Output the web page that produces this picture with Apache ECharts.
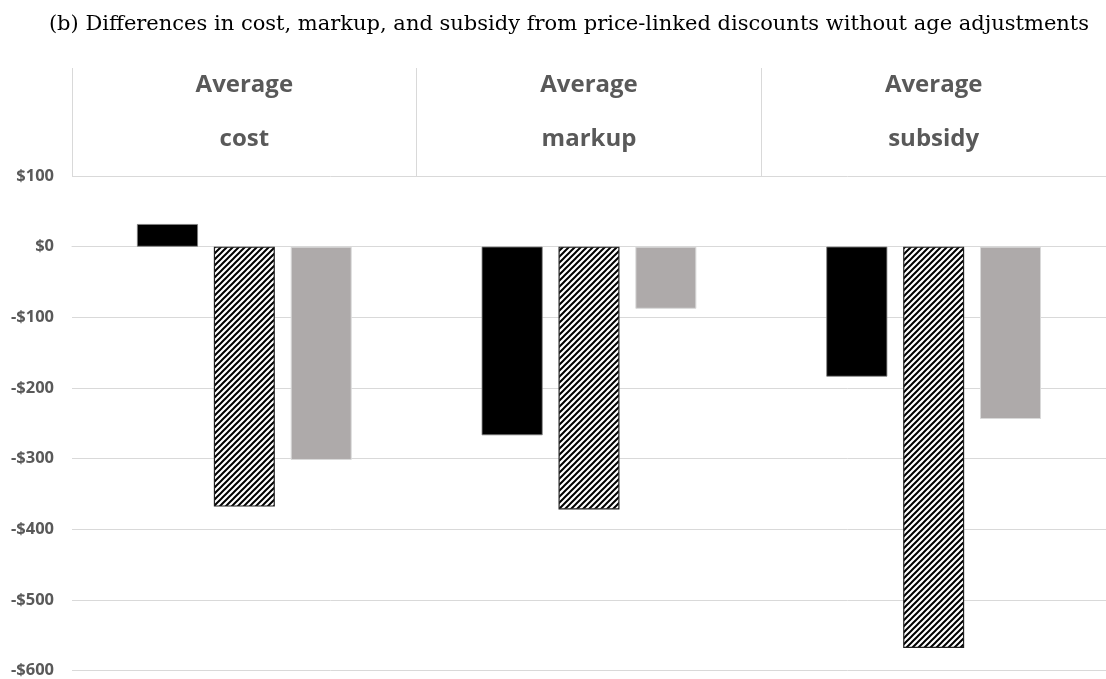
<!DOCTYPE html>
<html>
<head>
<meta charset="utf-8">
<script src="https://cdn.jsdelivr.net/npm/echarts@6/dist/echarts.min.js"></script>
<style>
html,body{margin:0;padding:0;background:#fff;}
#chart{width:1106px;height:679px;}
</style>
</head>
<body>
<div id="chart"></div>
<script>
const titleText = '(b) Differences in cost, markup, and subsidy from price-linked discounts without age adjustments';
const categories = ['Average\ncost', 'Average\nmarkup', 'Average\nsubsidy'];
const seriesSolid = [32, -267, -184];
const seriesHatched = [-368, -372, -568];
const seriesGray = [-302, -88, -244];
const yTicks = { min: -600, max: 100, interval: 100 };

function makeHatch() {
  const s = 6;
  const c = document.createElement('canvas');
  c.width = s; c.height = s;
  const g = c.getContext('2d');
  g.fillStyle = '#ffffff';
  g.fillRect(0, 0, s, s);
  g.strokeStyle = '#000000';
  g.lineWidth = 2;
  g.beginPath();
  g.moveTo(-1, s + 1); g.lineTo(s + 1, -1);
  g.moveTo(-1, 1); g.lineTo(1, -1);
  g.moveTo(s - 1, s + 1); g.lineTo(s + 1, s - 1);
  g.stroke();
  return c;
}

const chart = echarts.init(document.getElementById('chart'), null, { renderer: 'canvas' });
const labelColor = '#595959';
const gridColor = '#d9d9d9';

chart.setOption({
  animation: false,
  backgroundColor: '#ffffff',
  title: {
    text: titleText,
    left: 564,
    textAlign: 'center',
    top: 9,
    textStyle: { fontFamily: 'DejaVu Serif', fontWeight: 'normal', fontSize: 21, color: '#000' }
  },
  grid: [
    { left: 72, right: -3, top: 176, bottom: 8, containLabel: false },
    { left: 72, right: -3, top: 68, height: 108, containLabel: false }
  ],
  xAxis: [
    {
      type: 'category',
      gridIndex: 0,
      position: 'top',
      data: categories,
      axisLine: { show: true, lineStyle: { color: gridColor, width: 1 } },
      axisTick: { show: false },
      axisLabel: {
        margin: 10,
        color: labelColor,
        fontFamily: 'Open Sans',
        fontWeight: 'bold',
        fontSize: 24,
        lineHeight: 54
      },
      splitLine: { show: false }
    },
    {
      type: 'category',
      gridIndex: 1,
      data: categories,
      axisLine: { show: false },
      axisTick: { show: false },
      axisLabel: { show: false },
      splitLine: { show: true, showMinLine: true, showMaxLine: true, lineStyle: { color: gridColor, width: 1 } }
    }
  ],
  yAxis: [
    {
      type: 'value',
      gridIndex: 0,
      min: yTicks.min,
      max: yTicks.max,
      interval: yTicks.interval,
      axisLine: { show: false },
      axisTick: { show: false },
      axisLabel: {
        margin: 18,
        color: labelColor,
        fontFamily: 'Open Sans',
        fontWeight: 'bold',
        fontSize: 16.5,
        formatter: v => (v < 0 ? '-$' + Math.abs(v) : '$' + v)
      },
      splitLine: { show: true, lineStyle: { color: gridColor, width: 1 } }
    },
    {
      type: 'value',
      gridIndex: 1,
      show: false,
      splitLine: { show: false }
    }
  ],
  series: [
    {
      name: 'Solid', type: 'bar', data: seriesSolid, barWidth: 61, barGap: '26%',
      itemStyle: { color: '#000000', borderColor: '#7f7f7f', borderWidth: 0.8 }
    },
    {
      name: 'Hatched', type: 'bar', data: seriesHatched, barWidth: 61, barGap: '26%',
      itemStyle: { color: { image: makeHatch(), repeat: 'repeat' }, borderColor: '#222222', borderWidth: 1.2 }
    },
    {
      name: 'Gray', type: 'bar', data: seriesGray, barWidth: 61, barGap: '26%',
      itemStyle: { color: '#aeaaaa', borderColor: '#d9d9d9', borderWidth: 1 }
    }
  ]
});
</script>
</body>
</html>
